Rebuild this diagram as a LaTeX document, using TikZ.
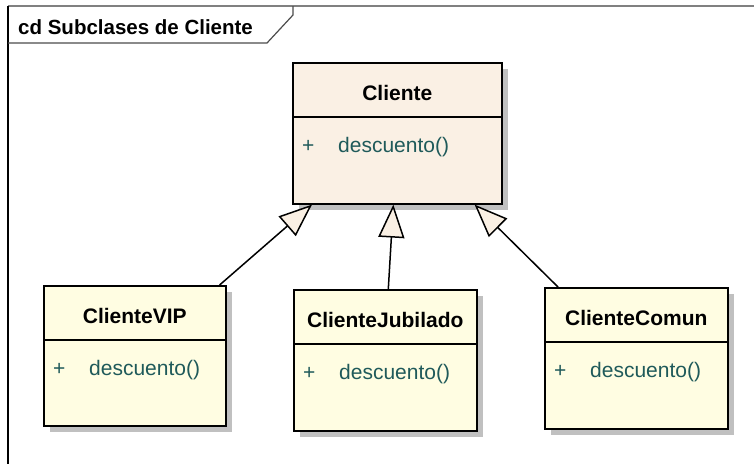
\documentclass[tikz,border=0pt]{standalone}
\usepackage{fontspec}
\setmainfont{Liberation Sans}
\usepackage{xcolor}
\usetikzlibrary{positioning,calc,shadows,arrows.meta}
\definecolor{superfill}{HTML}{FAF0E4}
\definecolor{subfill}{HTML}{FFFDE2}
\definecolor{opteal}{HTML}{1F5A5A}
\definecolor{shadowgrey}{HTML}{C0C0C0}
\definecolor{framegrey}{HTML}{808080}
\tikzset{
  classbox/.style={draw=black, line width=1.6pt, inner sep=0pt, anchor=north west,
    drop shadow={shadow xshift=6pt, shadow yshift=-6pt, fill=shadowgrey, opacity=1}},
  classname/.style={font=\bfseries\fontsize{21}{25}\selectfont, inner sep=0pt},
  classop/.style={font=\fontsize{21}{25}\selectfont, text=opteal, inner sep=0pt, anchor=west},
  generalize/.style={line width=1.5pt, -{Triangle[length=33pt, width=26pt, fill=superfill]}},
}
\newcommand{\umlclass}[6]{
  \node[classbox, fill=#2, minimum width=#4pt, minimum height=#5pt] (#1) at #3 {};
  \node[classname] (#1name) at ($(#1.north)+(0,31)$) {#6};
  \draw[line width=1.6pt] ($(#1.north west)+(0,55)$) -- ($(#1.north east)+(0,55)$);
  \node[classop] (#1op) at ($(#1.north west)+(10,85)$) {\makebox[36pt][l]{+}descuento()};
}

\begin{document}
\begin{tikzpicture}[x=1pt,y=-1pt]
\useasboundingbox (0,0) rectangle (754,464);

\draw[framegrey, line width=2pt] (8,6) -- (754,6);
\draw[black, line width=1.5pt] (8,6) -- (8,464);
\draw[black!70, line width=1.2pt] (8,43) -- (267,43) -- (293,15) -- (293,6);
\node[font=\bfseries\fontsize{20.5}{25}\selectfont, anchor=west, inner sep=0pt] (frametitle) at (18,27) {cd Subclases de Cliente};

\umlclass{cliente}{superfill}{(292,62)}{209}{141}{Cliente}
\umlclass{vip}{subfill}{(43,285)}{182}{140}{ClienteVIP}
\umlclass{jubilado}{subfill}{(293,289)}{183}{141}{ClienteJubilado}
\umlclass{comun}{subfill}{(544,287)}{183}{141}{ClienteComun}

\draw[generalize] ($(vip.north east)+(-7,0)$) -- ($(cliente.south west)+(20,0)$);
\draw[generalize] ($(jubilado.north)+(3,0)$) -- ($(cliente.south)+(-4,0)$);
\draw[generalize] ($(comun.north west)+(14,0)$) -- ($(cliente.south east)+(-28,0)$);
\end{tikzpicture}
\end{document}
